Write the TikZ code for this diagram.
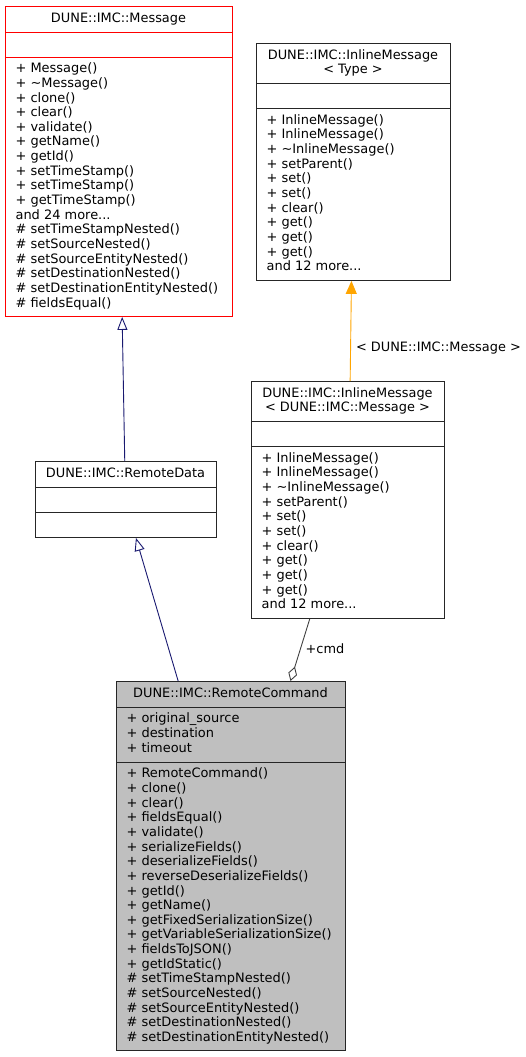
\documentclass[tikz,border=0pt]{standalone}
\usepackage{fontspec}
\setmainfont{DejaVu Sans}
\usepackage{tikz}
\usetikzlibrary{arrows.meta}
\definecolor{msgred}{RGB}{255,0,0}
\definecolor{boxgray}{RGB}{191,191,191}
\definecolor{inhblue}{RGB}{25,25,112}
\definecolor{tplorange}{RGB}{255,165,0}
\definecolor{usegray}{RGB}{64,64,64}
\newcommand{\mdots}{...}
\tikzset{
  classbox/.style={draw=black!85, line width=0.9pt, anchor=north west, inner sep=0pt},
  sepline/.style={draw=black!85, line width=0.9pt},
  ctitle/.style={anchor=base, inner sep=0pt, font=\fontsize{12.9}{14.65}\selectfont},
  member/.style={anchor=base west, inner sep=0pt, font=\fontsize{12.95}{14.65}\selectfont},
  elabel/.style={anchor=west, inner sep=0pt, text=black, font=\fontsize{12.9}{14.65}\selectfont},
  inherit/.style={draw=inhblue, line width=0.9pt, -{Triangle[open,length=13pt,width=10pt]}},
  tplarrow/.style={draw=tplorange, line width=0.9pt, -{Triangle[length=13pt,width=11pt]}},
  usearrow/.style={draw=usegray, line width=0.9pt, {Diamond[open,length=15pt,width=9pt]}-},
}

\begin{document}
\begin{tikzpicture}[x=1pt,y=-1pt]
 \useasboundingbox (0,0) rectangle (525,1057);
 % class boxes
 \node[classbox, draw=msgred, minimum width=227pt, minimum height=310pt] (msg) at (5,6) {};
 \node[classbox, minimum width=194pt, minimum height=237pt] (inlt) at (256,43) {};
 \node[classbox, minimum width=193pt, minimum height=237pt] (inl) at (251,381) {};
 \node[classbox, minimum width=181pt, minimum height=76pt] (rdata) at (35,461) {};
 \node[classbox, fill=boxgray, minimum width=229pt, minimum height=369pt] (rcmd) at (116,681) {};
 % compartments
 \draw[sepline, draw=msgred] (5,32) -- (232,32) (5,57) -- (232,57);
 \draw[sepline] (256,83) -- (450,83) (256,108) -- (450,108);
 \draw[sepline] (251,421) -- (444,421) (251,446) -- (444,446);
 \draw[sepline] (35,487) -- (216,487) (35,512) -- (216,512);
 \draw[sepline] (116,707) -- (345,707) (116,762) -- (345,762);
 % titles
 \node[ctitle] (msg-t) at (118.5,22.5) {DUNE::IMC::Message};
 \node[ctitle] (inlt-t1) at (353,59.2) {DUNE::IMC::InlineMessage};
 \node[ctitle] (inlt-t2) at (353,73.6) {< Type >};
 \node[ctitle] (inl-t1) at (347.5,397.2) {DUNE::IMC::InlineMessage};
 \node[ctitle] (inl-t2) at (347.5,411.6) {< DUNE::IMC::Message >};
 \node[ctitle] (rdata-t) at (125.5,477.8) {DUNE::IMC::RemoteData};
 \node[ctitle] (rcmd-t) at (230.5,697.8) {DUNE::IMC::RemoteCommand};
 % members
 \foreach \m [count=\i] in {+ Message(), + \textasciitilde Message(), + clone(), + clear(),
     + validate(), + getName(), + getId(), + setTimeStamp(), + setTimeStamp(),
     + getTimeStamp(), and 24 more\mdots, \# setTimeStampNested(), \# setSourceNested(),
     \# setSourceEntityNested(), \# setDestinationNested(),
     \# setDestinationEntityNested(), \# fieldsEqual()}
   \node[member] (msg-m\i) at (15.4,{72.7+14.65*(\i-1)}) {\m};
 \foreach \bx/\xx/\yy in {inlt/266.4/124.2, inl/261.4/462.2}{
   \foreach \m [count=\i] in {+ InlineMessage(), + InlineMessage(),
       + \textasciitilde InlineMessage(), + setParent(), + set(), + set(), + clear(),
       + get(), + get(), + get(), and 12 more\mdots}
     \node[member] (\bx-m\i) at (\xx,{\yy+14.65*(\i-1)}) {\m};
 }
 \foreach \m [count=\i] in {+ original\_source, + destination, + timeout}
   \node[member] (rcmd-a\i) at (126.4,{722.8+14.65*(\i-1)}) {\m};
 \foreach \m [count=\i] in {+ RemoteCommand(), + clone(), + clear(), + fieldsEqual(),
     + validate(), + serializeFields(), + deserializeFields(),
     + reverseDeserializeFields(), + getId(), + getName(),
     + getFixedSerializationSize(), + getVariableSerializationSize(),
     + fieldsToJSON(), + getIdStatic(), \# setTimeStampNested(), \# setSourceNested(),
     \# setSourceEntityNested(), \# setDestinationNested(),
     \# setDestinationEntityNested()}
   \node[member] (rcmd-m\i) at (126.4,{777.8+14.65*(\i-1)}) {\m};
 % relations
 \draw[inherit] ([xshift=-1.2pt]rdata.north) -- ([xshift=3.2pt]msg.south);
 \draw[inherit] ([xshift=-52.8pt]rcmd.north) -- ([xshift=10pt]rdata.south);
 \draw[tplarrow] ([xshift=2.2pt]inl.north) -- ([xshift=-2pt]inlt.south)
   node[elabel, pos=0.33, xshift=5pt] (tpl-l) {< DUNE::IMC::Message >};
 \draw[usearrow] ([xshift=59.5pt]rcmd.north) -- ([xshift=-38.2pt]inl.south)
   node[elabel, pos=0.52, xshift=4.7pt] (cmd-l) {+cmd};
\end{tikzpicture}
\end{document}
